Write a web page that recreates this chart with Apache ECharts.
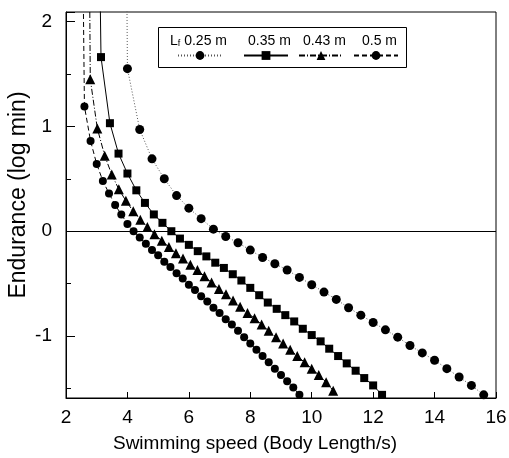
<!DOCTYPE html>
<html>
<head>
<meta charset="utf-8">
<script src="https://cdn.jsdelivr.net/npm/echarts@6/dist/echarts.min.js"></script>
<style>
  html, body { margin: 0; padding: 0; background: #fff; }
  #chart { width: 509px; height: 458px; }
</style>
</head>
<body>
<div id="chart"></div>
<script>
// swimming speed (BL/s) and endurance (log min) per fish length
const names = ['0.25 m', '0.35 m', '0.43 m', '0.5 m']

const x025 = [4.0, 4.4, 4.8, 5.2, 5.6, 6.0, 6.4, 6.8, 7.2, 7.6, 8.0, 8.4, 8.8, 9.2, 9.6,
  10.0, 10.4, 10.8, 11.2, 11.6, 12.0, 12.4, 12.8, 13.2, 13.6, 14.0, 14.4, 14.8, 15.2, 15.6]
const y025 = [1.55, 0.97, 0.69, 0.50, 0.34, 0.22, 0.12, 0.02, -0.05, -0.11, -0.18, -0.25, -0.31, -0.37, -0.44,
  -0.51, -0.58, -0.65, -0.73, -0.80, -0.87, -0.94, -1.01, -1.09, -1.16, -1.23, -1.31, -1.39, -1.47, -1.56]

const x035 = [3.14, 3.43, 3.71, 4.00, 4.29, 4.57, 4.86, 5.14, 5.43, 5.71, 6.00, 6.29, 6.57, 6.86, 7.14, 7.43, 7.71,
  8.00, 8.29, 8.57, 8.86, 9.14, 9.43, 9.71, 10.00, 10.29, 10.57, 10.86, 11.14, 11.43, 11.71, 12.00, 12.29]
const y035 = [1.66, 1.03, 0.74, 0.55, 0.39, 0.27, 0.16, 0.08, 0.00, -0.07, -0.13, -0.19, -0.24, -0.30, -0.35, -0.41, -0.47,
  -0.54, -0.61, -0.68, -0.74, -0.80, -0.86, -0.93, -0.99, -1.05, -1.12, -1.19, -1.26, -1.33, -1.40, -1.47, -1.56]

const x043 = [2.79, 3.02, 3.26, 3.49, 3.72, 3.95, 4.19, 4.42, 4.65, 4.88, 5.12, 5.35, 5.58, 5.81, 6.05, 6.28, 6.51, 6.74,
  6.98, 7.21, 7.44, 7.67, 7.91, 8.14, 8.37, 8.60, 8.84, 9.07, 9.30, 9.53, 9.77, 10.00, 10.23, 10.47, 10.70]
const y043 = [1.45, 0.98, 0.72, 0.54, 0.40, 0.29, 0.19, 0.11, 0.04, -0.03, -0.09, -0.15, -0.21, -0.26, -0.32, -0.37, -0.43, -0.49,
  -0.55, -0.60, -0.66, -0.72, -0.78, -0.83, -0.89, -0.95, -1.01, -1.07, -1.13, -1.19, -1.25, -1.31, -1.37, -1.44, -1.52]

const x050 = [2.6, 2.8, 3.0, 3.2, 3.4, 3.6, 3.8, 4.0, 4.2, 4.4, 4.6, 4.8, 5.0, 5.2, 5.4, 5.6, 5.8, 6.0,
  6.2, 6.4, 6.6, 6.8, 7.0, 7.2, 7.4, 7.6, 7.8, 8.0, 8.2, 8.4, 8.6, 8.8, 9.0, 9.2, 9.4, 9.6]
const y050 = [1.19, 0.86, 0.64, 0.48, 0.36, 0.25, 0.16, 0.07, 0.00, -0.06, -0.12, -0.18, -0.23, -0.29, -0.34, -0.40, -0.45, -0.51,
  -0.56, -0.62, -0.67, -0.73, -0.78, -0.84, -0.89, -0.95, -1.01, -1.07, -1.13, -1.19, -1.25, -1.31, -1.37, -1.43, -1.49, -1.56]

// where each fitted curve leaves the top of the frame
const topX = [3.98, 3.11, 2.77, 2.56]
const topY = 2.3

const xTicks = [2, 4, 6, 8, 10, 12, 14, 16]

const font = 'Liberation Sans, Arial, Helvetica, sans-serif'
const chart = echarts.init(document.getElementById('chart'))

const curve = (i, xs, ys) => {
  const pts = xs.map((x, k) => [x, ys[k]])
  return [{ value: [topX[i], topY], symbol: 'none' }].concat(pts)
}

const styles = [
  { symbol: 'circle', size: 9, line: { color: '#555', width: 1, type: [1, 2] } },
  { symbol: 'rect', size: 8, line: { color: '#000', width: 1, type: 'solid' } },
  { symbol: 'triangle', size: 10, line: { color: '#000', width: 1, type: [6, 2, 1, 2] } },
  { symbol: 'circle', size: 8, line: { color: '#000', width: 1, type: [5, 3] } }
]

const series = [
  curve(0, x025, y025), curve(1, x035, y035), curve(2, x043, y043), curve(3, x050, y050)
].map((data, i) => ({
  name: names[i],
  type: 'line',
  data,
  symbol: styles[i].symbol,
  symbolSize: styles[i].size,
  itemStyle: { color: '#000' },
  lineStyle: styles[i].line,
  clip: true,
  z: 3 + i,
  animation: false
}))

// zero reference line
series[0].markLine = {
  silent: true,
  symbol: 'none',
  label: { show: false },
  lineStyle: { color: '#000', width: 1, type: 'solid' },
  data: [{ yAxis: 0 }]
}

const iconLeft = [177, 243, 298, 353]
const textLeft = [165, 243, 298, 357]

const legends = []
names.forEach((n, i) => {
  legends.push({
    data: [n],
    left: iconLeft[i],
    top: 50,
    padding: 0,
    z: 20,
    itemWidth: 44,
    itemHeight: 11,
    itemGap: 0,
    selectedMode: false,
    formatter: () => ''
  })
  legends.push({
    data: [n],
    left: textLeft[i],
    top: 34,
    padding: 0,
    z: 20,
    icon: 'rect',
    itemWidth: 0,
    itemHeight: 0,
    itemGap: 0,
    selectedMode: false,
    itemStyle: { opacity: 0 },
    lineStyle: { opacity: 0 },
    formatter: (name) => (i === 0 ? '{b|L}{s|f}{b| ' + name + '}' : name),
    textStyle: {
      color: '#000',
      fontSize: 14,
      fontFamily: font,
      rich: {
        b: { fontSize: 14, fontFamily: font, color: '#000' },
        s: { fontSize: 9, fontFamily: font, color: '#000', verticalAlign: 'bottom', padding: [6, 0, 0, 0] }
      }
    }
  })
})

const option = {
  backgroundColor: '#fff',
  animation: false,
  grid: {
    left: 66,
    right: 13,
    top: 12,
    bottom: 60,
    outerBoundsMode: 'none',
    containLabel: false,
    show: true,
    borderColor: '#000',
    borderWidth: 1
  },
  legend: legends,
  graphic: [{
    type: 'rect',
    left: 158,
    top: 27,
    shape: { width: 248, height: 40 },
    style: { fill: '#fff', stroke: '#000', lineWidth: 1 },
    z: 1
  }],
  xAxis: {
    type: 'value',
    min: xTicks[0],
    max: xTicks[xTicks.length - 1],
    interval: 2,
    name: 'Swimming speed (Body Length/s)',
    nameLocation: 'middle',
    nameGap: 36,
    nameMoveOverlap: false,
    nameTextStyle: { color: '#000', fontSize: 19, fontFamily: font, padding: [0, 52, 0, 0] },
    axisLine: { onZero: false, lineStyle: { color: '#000', width: 1 } },
    axisTick: { inside: true, length: 6, lineStyle: { color: '#000' } },
    axisLabel: { color: '#000', fontSize: 19, fontFamily: font, margin: 10 },
    splitLine: { show: false }
  },
  yAxis: {
    type: 'value',
    min: -1.59,
    max: 2.09,
    splitNumber: 4,
    name: 'Endurance (log min)',
    nameLocation: 'middle',
    nameGap: 36,
    nameMoveOverlap: false,
    nameTextStyle: { color: '#000', fontSize: 23, fontFamily: font, padding: [0, 0, 0, 20] },
    axisLine: { onZero: false, lineStyle: { color: '#000', width: 1 } },
    axisTick: { inside: true, length: 9, lineStyle: { color: '#000' } },
    minorTick: { show: true, splitNumber: 2, length: 5, lineStyle: { color: '#000' } },
    axisLabel: { color: '#000', fontSize: 19, fontFamily: font, margin: 14, showMinLabel: false, showMaxLabel: false },
    splitLine: { show: false }
  },
  series
}

chart.setOption(option)
</script>
</body>
</html>
